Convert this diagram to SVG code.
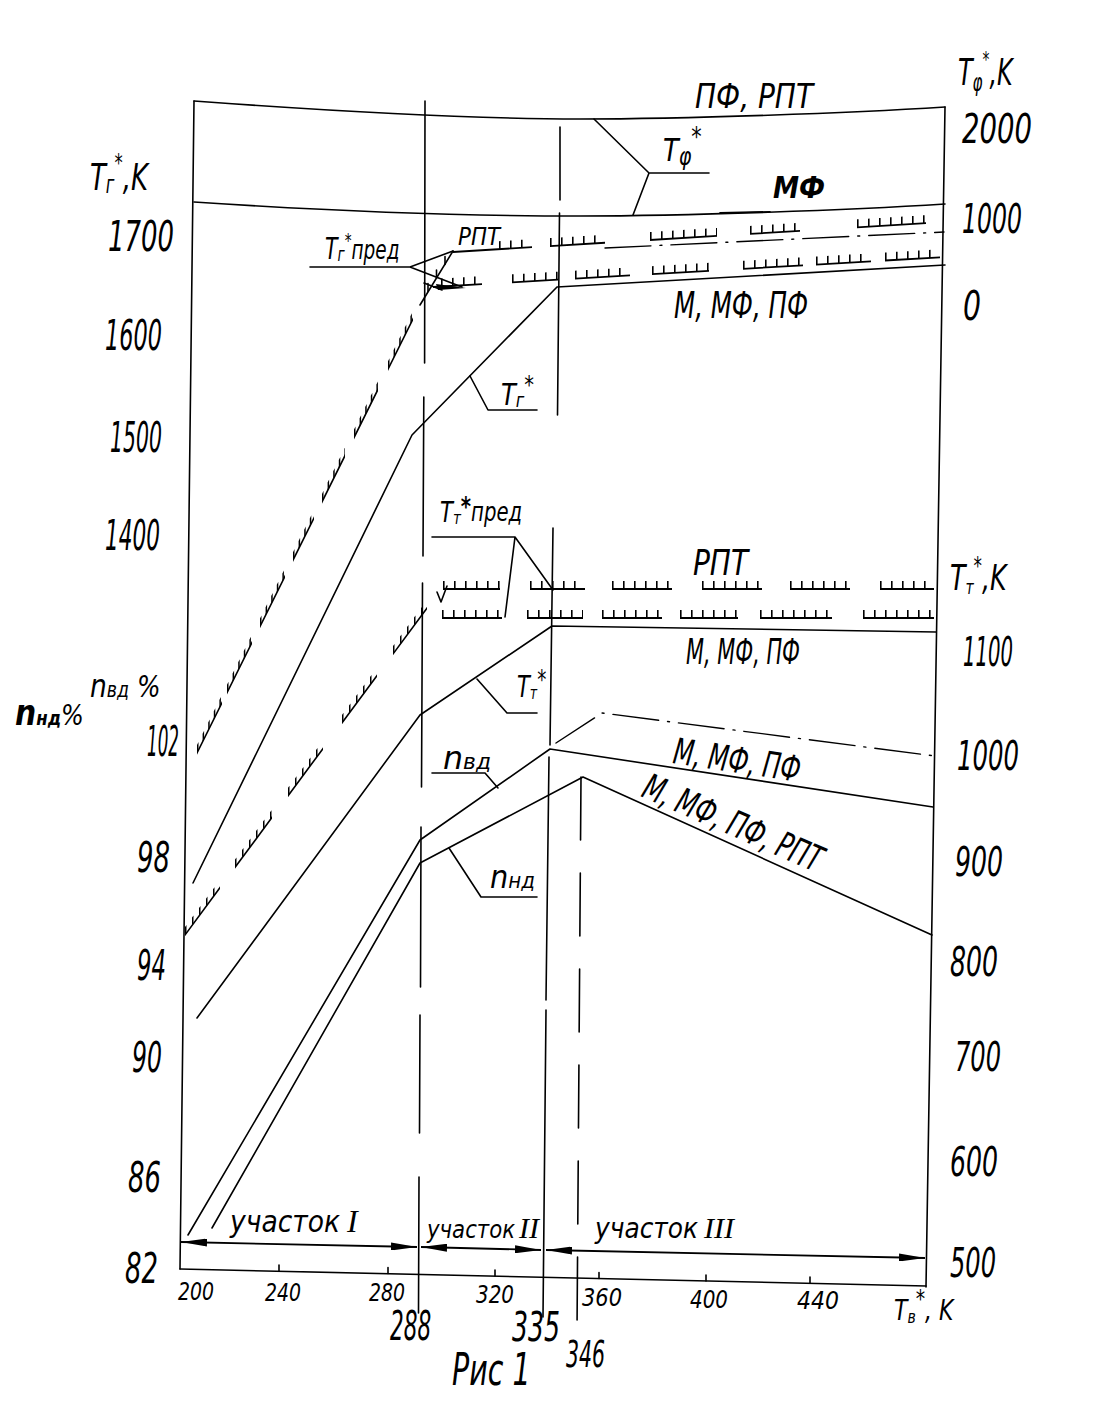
<svg xmlns="http://www.w3.org/2000/svg" width="1097" height="1410" viewBox="0 0 1097 1410">
<defs>
<style>
text{font-family:"Liberation Sans Narrow","DejaVu Sans Condensed","Liberation Sans",sans-serif;font-style:italic;fill:#000}
.n{font-size:42px}
.nr{font-size:40px}
.nb{font-size:25px}
.rm{font-family:"Liberation Serif","DejaVu Serif",serif;font-style:italic}
.ln{fill:none;stroke:#000;stroke-width:1.6;stroke-linecap:round;stroke-linejoin:round}
.dd{stroke-dasharray:46 9 2 9;stroke-width:1.4}
.hb{fill:none;stroke:#000;stroke-width:1.8}
.ht{fill:none;stroke:#000;stroke-width:8;stroke-dasharray:1.6 9.4}
.hb2{stroke-width:3.6}
.ht2{stroke-dasharray:1.5 4.1}
.hb3{stroke-width:2.7}
.ht3{stroke-dasharray:1.5 5.5}
.dim{fill:none;stroke:#000;stroke-width:1.8}
</style>
<marker id="ah" viewBox="0 0 26 8" refX="26" refY="4" markerWidth="26" markerHeight="8" markerUnits="userSpaceOnUse" orient="auto-start-reverse">
<path d="M0 0L26 4L0 8z" fill="#000"/>
</marker>
</defs>
<rect width="1097" height="1410" fill="#fff"/>

<g id="connectors">
 <path class="ln" d="M194 101L180 1269"/>
 <path class="ln" d="M945 107L926 1287"/>
 <path class="ln" d="M180 1269L926 1286"/>
 <path class="ln" d="M279 1271v-6M388 1273.5v-6M495 1276v-6M599 1278.5v-6M706 1281v-6M810 1283v-6"/>
 <path class="ln" d="M194 101C330 111 470 119 580 119S850 113 945 107"/>
 <path class="ln" d="M194 202C330 211 470 216 580 216S850 210 945 204"/>
 <path class="ln" d="M720 212.8L770 211.8" stroke-width="3.5"/>
 <path class="ln" d="M425 101L424.6 363M423.8 397L423 556"/>
 <path class="ln" d="M422.5 583L421.5 787" stroke-width="3.2"/>
 <path class="ln" d="M421 827L420.5 987M420 1015L419.5 1133M419 1177L418.5 1313" stroke-width="2"/>
 <path class="ln" d="M560 127V200M559.5 213L557.5 415M553 528L550 745M549 757L546 1000M546 1010L543 1317" stroke-width="1.5"/>
 <path class="ln" d="M581 777L577 1332" stroke-width="2.8" stroke-dasharray="63 33" stroke-linecap="butt"/>
 <path class="ln" d="M193 883L412 435L557 287L945 265"/>
 <path class="ln" d="M197 1018L420 715L552 626L936 632"/>
 <path class="ln" d="M188 1235L420 840L550 749L933 807"/>
 <path class="ln" d="M212 1228L420 863L583 777L932 935"/>
 <path class="ln dd" d="M556 743L602 713L935 756"/>
 <path class="ln dd" d="M605 248L944 232"/>
 <g transform="matrix(1,-2.009,0,1,197,753)">
  <path class="hb hb2" d="M0 0H25M30 0H55M63 0H88M96 0H117M125 0H148M157 0H181M191 0H216"/>
  <path class="ht ht2" d="M0 -4H25M30 -4H55M63 -4H88M96 -4H117M125 -4H148M157 -4H181M191 -4H216"/>
 </g>
 <g transform="matrix(1,-1.351,0,1,185,935)">
  <path class="hb hb3" d="M0 0H35M50 0H87M103 0H138M157 0H192M208 0H242"/>
  <path class="ht ht3" d="M0 -4H35M50 -4H87M103 -4H138M157 -4H192M208 -4H242"/>
 </g>
 <g transform="matrix(1,-0.061,0,1,453,252)">
  <path class="hb" d="M0 0H79M97 0H152M197 0H264M297 0H347M404 0H473"/>
  <path class="ht" d="M46 -4H79M97 -4H152M197 -4H264M297 -4H347M404 -4H473"/>
 </g>
 <g transform="matrix(1,-0.0586,0,1,433,287)">
  <path class="hb" d="M0 0H49M79 0H125M142 0H197M219 0H276M310 0H370M383 0H438M452 0H507"/>
  <path class="ht" d="M8 -4H49M79 -4H125M142 -4H197M219 -4H276M310 -4H370M383 -4H438M452 -4H507"/>
 </g>
 <g transform="translate(442,589)">
  <path class="hb" d="M1 0H58M88 0H143M170 0H230M260 0H320M348 0H408M438 0H492"/>
  <path class="ht" d="M1 -4H58M88 -4H143M170 -4H230M260 -4H320M348 -4H408M438 -4H492"/>
 </g>
 <g transform="translate(442,618)">
  <path class="hb" d="M0 0H60M85 0H141M160 0H220M238 0H296M318 0H390M421 0H492"/>
  <path class="ht" d="M0 -4H60M85 -4H141M160 -4H220M238 -4H296M318 -4H390M421 -4H492"/>
 </g>
 <path class="ln" d="M420 305L453 251"/>
 <path class="ln" d="M428 291.5v-8M436.5 278v-8M445 264.5v-8M424 283L442 290"/>
 <path d="M436 284L466 288L438 290z" fill="#000"/>
 <path class="ln" d="M437 592L441 602L447 586"/>
 <path class="ln" d="M594 119L649 173H709M649 173L633 215"/>
 <path class="ln" d="M310 267H410L453 251M410 267L462 287"/>
 <path class="ln" d="M470 376L488 410H537"/>
 <path class="ln" d="M432 537H515L553 590M515 537L505 617"/>
 <path class="ln" d="M477 679L507 713H537"/>
 <path class="ln" d="M498 788L485 773H432"/>
 <path class="ln" d="M449 848L481 897H537"/>
 <path class="dim" d="M181 1242L417 1247" marker-start="url(#ah)" marker-end="url(#ah)"/>
 <path class="dim" d="M421 1247L541 1250" marker-start="url(#ah)" marker-end="url(#ah)"/>
 <path class="dim" d="M546 1250L925 1258" stroke-width="2.6" marker-start="url(#ah)" marker-end="url(#ah)"/>
</g>

<g id="left-axis">
 <text transform="matrix(0.76,0,0,1,90,190)" font-size="38">T<tspan font-size="24" dy="3">г</tspan><tspan font-size="24" dy="-22">*</tspan><tspan dy="19">,K</tspan></text>
 <text class="n" x="108" y="251" textLength="66" lengthAdjust="spacingAndGlyphs">1700</text>
 <text class="n" x="105" y="350" textLength="57" lengthAdjust="spacingAndGlyphs">1600</text>
 <text class="n" x="110" y="452" textLength="52" lengthAdjust="spacingAndGlyphs">1500</text>
 <text class="n" x="105" y="550" textLength="55" lengthAdjust="spacingAndGlyphs">1400</text>
 <text transform="matrix(0.92,0,0,1,90,697)" font-size="32">n<tspan font-size="21">вд</tspan><tspan font-size="30"> %</tspan></text>
 <text transform="matrix(0.92,0,0,1,15,725)" font-size="36" font-weight="bold">n<tspan font-size="20">нд</tspan><tspan font-size="29" font-weight="normal">%</tspan></text>
 <text class="n" x="147" y="756" textLength="32" lengthAdjust="spacingAndGlyphs">102</text>
 <text class="n" x="137" y="872" textLength="33" lengthAdjust="spacingAndGlyphs">98</text>
 <text class="n" x="137" y="980" textLength="29" lengthAdjust="spacingAndGlyphs">94</text>
 <text class="n" x="132" y="1072" textLength="30" lengthAdjust="spacingAndGlyphs">90</text>
 <text class="n" x="128" y="1192" textLength="33" lengthAdjust="spacingAndGlyphs">86</text>
 <text class="n" x="125" y="1283" textLength="33" lengthAdjust="spacingAndGlyphs">82</text>
</g>

<g id="right-axis">
 <text transform="matrix(0.7,0,0,1,958,85)" font-size="38">T<tspan font-size="24" dy="6">φ</tspan><tspan font-size="22" dy="-24">*</tspan><tspan dy="18">,K</tspan></text>
 <text class="nr" x="962" y="143" textLength="70" lengthAdjust="spacingAndGlyphs">2000</text>
 <text class="nr" x="962" y="233" textLength="60" lengthAdjust="spacingAndGlyphs">1000</text>
 <text class="nr" x="963" y="320" textLength="18" lengthAdjust="spacingAndGlyphs">0</text>
 <text transform="matrix(0.78,0,0,1,950,590)" font-size="36">T<tspan font-size="20" dy="4">т</tspan><tspan font-size="24" dy="-20">*</tspan><tspan dy="16">,K</tspan></text>
 <text class="nr" x="963" y="666" textLength="50" lengthAdjust="spacingAndGlyphs">1100</text>
 <text class="nr" x="957" y="770" textLength="62" lengthAdjust="spacingAndGlyphs">1000</text>
 <text class="nr" x="955" y="876" textLength="48" lengthAdjust="spacingAndGlyphs">900</text>
 <text class="nr" x="950" y="976" textLength="48" lengthAdjust="spacingAndGlyphs">800</text>
 <text class="nr" x="955" y="1071" textLength="46" lengthAdjust="spacingAndGlyphs">700</text>
 <text class="nr" x="950" y="1176" textLength="48" lengthAdjust="spacingAndGlyphs">600</text>
 <text class="nr" x="950" y="1277" textLength="46" lengthAdjust="spacingAndGlyphs">500</text>
</g>

<g id="bottom-axis">
 <text class="nb" x="178" y="1300" textLength="36" lengthAdjust="spacingAndGlyphs">200</text>
 <text class="nb" x="265" y="1301" textLength="36" lengthAdjust="spacingAndGlyphs">240</text>
 <text class="nb" x="369" y="1301" textLength="36" lengthAdjust="spacingAndGlyphs">280</text>
 <text class="nb" x="476" y="1303" textLength="38" lengthAdjust="spacingAndGlyphs">320</text>
 <text class="nb" x="582" y="1306" textLength="40" lengthAdjust="spacingAndGlyphs">360</text>
 <text class="nb" x="690" y="1308" textLength="38" lengthAdjust="spacingAndGlyphs">400</text>
 <text class="nb" x="797" y="1309" textLength="42" lengthAdjust="spacingAndGlyphs">440</text>
 <text transform="matrix(0.87,0,0,1,894,1320)" font-size="28">T<tspan font-size="18" dy="3">в</tspan><tspan font-size="24" dy="-16">*</tspan><tspan dy="13">, K</tspan></text>
 <text transform="matrix(0.6,0,0,1,390,1340)" font-size="40">288</text>
 <text transform="matrix(0.7,0,0,1,512,1341)" font-size="40">335</text>
 <text transform="matrix(0.6,0,0,1,566,1367)" font-size="38">346</text>
 <text transform="matrix(0.72,0,0,1,452,1385)" font-size="44">Рис 1</text>
</g>

<g id="sections">
 <text x="230" y="1232" font-size="30" textLength="110" lengthAdjust="spacingAndGlyphs">участок</text>
 <text class="rm" x="347" y="1232" font-size="32">I</text>
 <text x="427" y="1238" font-size="24" textLength="88" lengthAdjust="spacingAndGlyphs">участок</text>
 <text class="rm" x="519" y="1238" font-size="30">II</text>
 <text x="595" y="1238" font-size="28" textLength="103" lengthAdjust="spacingAndGlyphs">участок</text>
 <text class="rm" x="704" y="1238" font-size="30">III</text>
</g>

<g id="label-Tphi">
 <text x="695" y="108" font-size="34" textLength="118" lengthAdjust="spacingAndGlyphs">ПФ, РПТ</text>
 <text transform="matrix(0.89,0,0,1,663,161)" font-size="32">T<tspan font-size="24" dy="4">φ</tspan><tspan font-size="26" dy="-19">*</tspan></text>
 <text x="773" y="198" font-size="30" font-weight="bold" textLength="52" lengthAdjust="spacingAndGlyphs">МФ</text>
</g>

<g id="label-Tg">
 <text x="458" y="245" font-size="24" textLength="42" lengthAdjust="spacingAndGlyphs">РПТ</text>
 <text transform="matrix(0.76,0,0,1,325,259)" font-size="30">T<tspan font-size="20" dy="2">г</tspan><tspan font-size="20" dy="-14">*</tspan><tspan font-size="27" dy="12">пред</tspan></text>
 <text x="674" y="318" font-size="38" textLength="134" lengthAdjust="spacingAndGlyphs">М, МФ, ПФ</text>
 <text transform="matrix(0.9,0,0,1,501,405)" font-size="30">T<tspan font-size="20" dy="2">г</tspan><tspan font-size="24" dy="-14">*</tspan></text>
</g>

<g id="label-Tt">
 <text transform="matrix(0.84,0,0,1,440,522)" font-size="28">T<tspan font-size="18" dy="2">т</tspan><tspan font-size="26" font-weight="bold" dy="-8">*</tspan><tspan font-size="26" dy="5">пред</tspan></text>
 <text x="693" y="575" font-size="36" textLength="55" lengthAdjust="spacingAndGlyphs">РПТ</text>
 <text x="686" y="664" font-size="36" textLength="114" lengthAdjust="spacingAndGlyphs">М, МФ, ПФ</text>
 <text transform="matrix(0.78,0,0,1,517,697)" font-size="30">T<tspan font-size="18" dy="2">т</tspan><tspan font-size="26" dy="-10">*</tspan></text>
</g>

<g id="label-n">
 <text transform="matrix(1.1,0,0,1,443,769)" font-size="32">n<tspan font-size="22">вд</tspan></text>
 <text transform="translate(490,888)" font-size="32">n<tspan font-size="22">нд</tspan></text>
 <text x="672" y="763" font-size="36" transform="rotate(8.5 672 763)" textLength="128" lengthAdjust="spacingAndGlyphs">М, МФ, ПФ</text>
 <text x="640" y="796" font-size="36" transform="rotate(23.5 640 796)" textLength="192" lengthAdjust="spacingAndGlyphs">М, МФ, ПФ, РПТ</text>
</g>
</svg>
